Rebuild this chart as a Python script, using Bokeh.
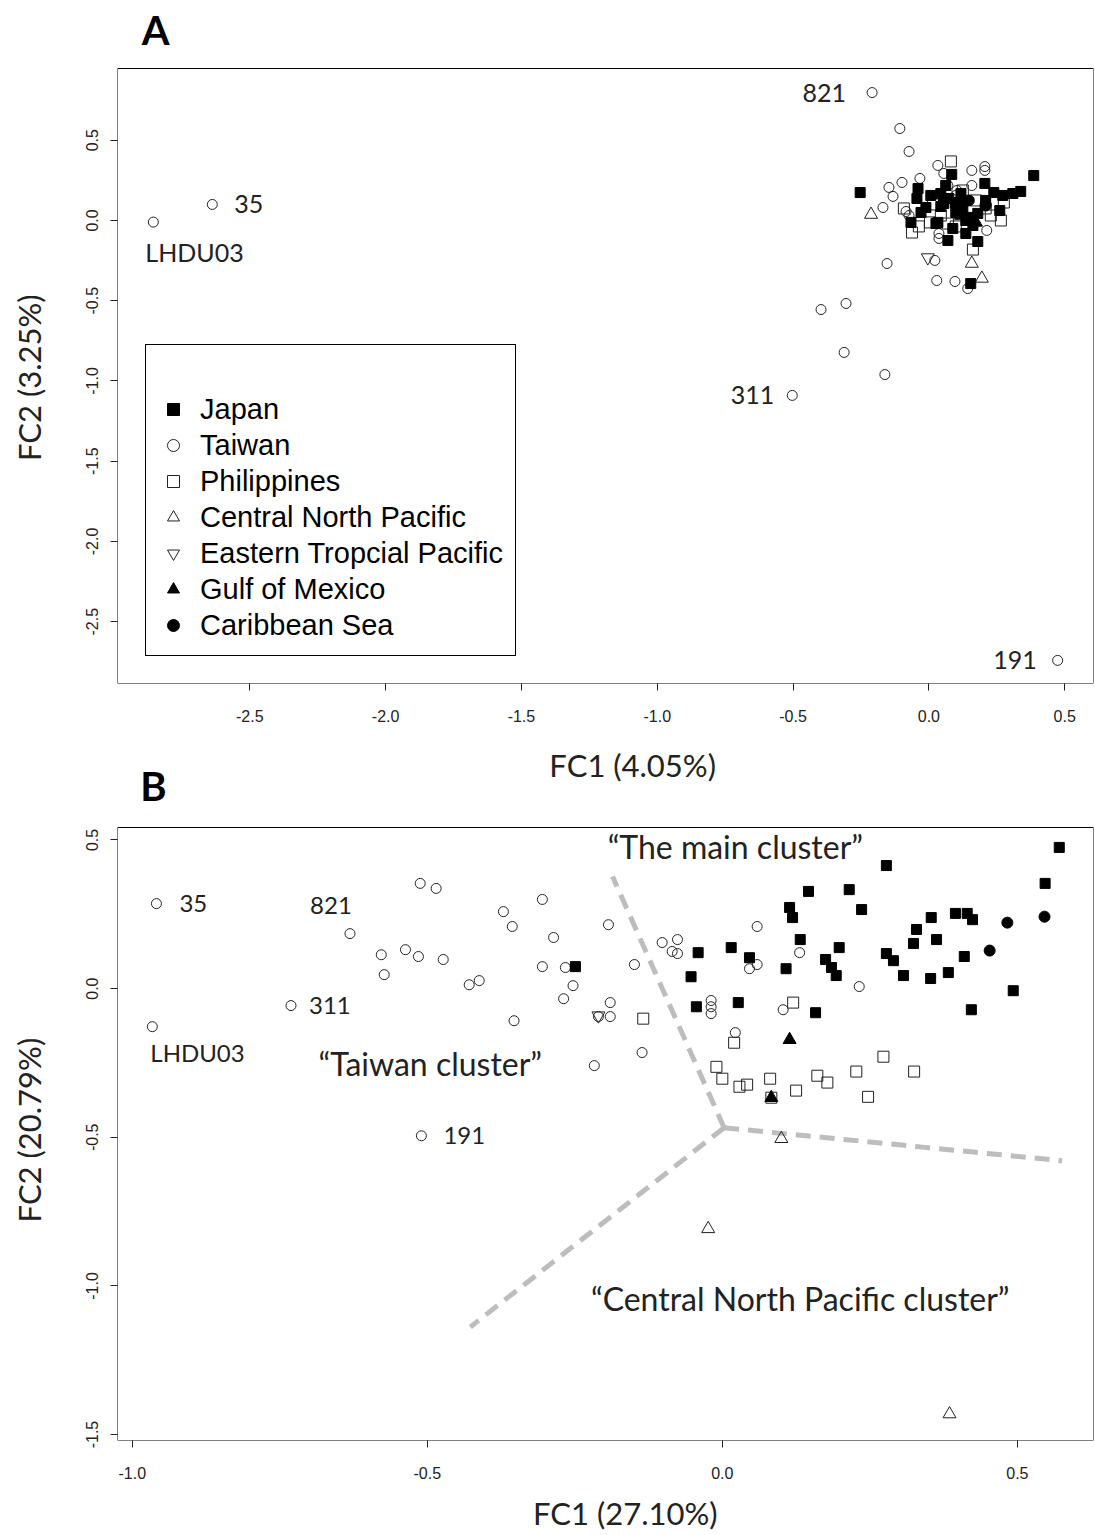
from bokeh.plotting import figure
from bokeh.layouts import column
from bokeh.models import FixedTicker, PrintfTickFormatter, Legend, LegendItem, Range1d, BoxAnnotation
from bokeh.core.properties import value
from bokeh.embed import file_html
from bokeh.resources import INLINE

# ---------------- Panel A: FC1 (4.05%) / FC2 (3.25%) ----------------
a_japan_x = [-0.253, -0.040, -0.044, -0.011, -0.066, 0.026, 0.044, 0.055, 0.073, 0.033, 0.084, 0.125,
             0.136, 0.070, 0.136, 0.180, 0.147, 0.180, 0.206, 0.239, 0.272, 0.309, 0.338, 0.386,
             0.261, 0.154, 0.099, 0.044, 0.110, 0.209, 0.007, 0.162, 0.088, 0.062, 0.118, -0.029]
a_japan_y = [0.174, 0.199, 0.137, 0.081, -0.012, -0.019, 0.168, 0.106, 0.137, -0.012, 0.287, 0.075,
             0.000, -0.125, -0.081, -0.131, 0.019, 0.044, 0.231, 0.174, 0.156, 0.168, 0.181, 0.280,
             0.062, -0.393, 0.050, 0.087, 0.112, 0.125, 0.156, -0.031, -0.050, 0.218, 0.168, 0.050]
a_taiwan_x = [-2.855, -2.638, -0.209, -0.503, 0.474, -0.397, -0.305, -0.312, -0.162, -0.154, -0.107,
              -0.073, 0.033, 0.158, 0.206, 0.206, -0.147, -0.099, -0.132, -0.033, -0.169, -0.084,
              0.037, 0.037, 0.213, 0.158, 0.103, 0.099, 0.022, 0.029, 0.096, 0.143, 0.055, -0.073, 0.070]
a_taiwan_y = [-0.010, 0.100, 0.797, -1.090, -2.741, -0.555, -0.517, -0.822, -0.960, -0.268, 0.573,
              0.430, 0.343, 0.312, 0.336, 0.312, 0.206, 0.237, 0.150, 0.262, 0.081, 0.056,
              -0.081, -0.112, -0.062, 0.218, 0.187, 0.156, -0.249, -0.374, -0.380, -0.424, 0.293, 0.031, 0.218]
a_phil_x = [0.081, -0.092, -0.062, 0.004, 0.070, 0.099, 0.162, 0.276, 0.015, 0.173, 0.228, -0.037,
            0.125, 0.044, 0.265, 0.209]
a_phil_y = [0.368, 0.075, -0.075, -0.012, -0.019, -0.037, -0.181, 0.112, 0.100, 0.125, 0.031, -0.037,
            0.187, 0.031, 0.000, 0.075]
a_cnp_x = [-0.213, 0.158, 0.195]
a_cnp_y = [0.037, -0.268, -0.361]
a_etp_x = [-0.004]
a_etp_y = [-0.231]
a_gom_x = [0.118, 0.173]
a_gom_y = [0.031, -0.012]
a_carib_x = [0.099, 0.209, 0.147]
a_carib_y = [0.093, 0.093, 0.125]

# individually tagged specimens in panel A
a_tag_text = ["821", "35", "LHDU03", "311", "191"]
a_tag_x = [-0.209, -2.638, -2.855, -0.503, 0.474]
a_tag_y = [0.797, 0.100, -0.010, -1.090, -2.741]

# ---------------- Panel B: FC1 (27.10%) / FC2 (20.79%) ----------------
b_japan_x = [-0.249, 0.146, 0.114, 0.119, 0.132, 0.015, -0.041, 0.046, 0.108, -0.053, -0.044, 0.027,
             0.158, 0.571, 0.278, 0.215, 0.547, 0.236, 0.354, 0.395, 0.415, 0.424, 0.329, 0.363,
             0.324, 0.198, 0.175, 0.185, 0.193, 0.278, 0.290, 0.307, 0.353, 0.383, 0.410, 0.493, 0.422]
b_japan_y = [0.074, 0.327, 0.273, 0.239, 0.165, 0.138, 0.121, 0.104, 0.067, 0.040, -0.061, -0.047,
             -0.081, 0.475, 0.414, 0.333, 0.354, 0.266, 0.239, 0.253, 0.253, 0.232, 0.199, 0.165,
             0.152, 0.138, 0.098, 0.071, 0.044, 0.118, 0.094, 0.044, 0.034, 0.054, 0.108, -0.007, -0.071]
b_taiwan_x = [-0.959, -0.966, -0.731, -0.510, -0.631, -0.512, -0.485, -0.578, -0.537, -0.515, -0.573,
              -0.473, -0.305, -0.371, -0.356, -0.286, -0.193, -0.305, -0.266, -0.253, -0.269, -0.429,
              -0.412, -0.353, -0.190, -0.210, -0.190, -0.217, -0.149, -0.102, -0.085, -0.076, -0.076,
              -0.136, 0.059, 0.131, 0.046, 0.059, -0.019, -0.019, -0.019, 0.103, 0.022, 0.232]
b_taiwan_y = [0.286, -0.128, -0.057, -0.495, 0.185, 0.354, 0.337, 0.114, 0.131, 0.108, 0.047,
              0.098, 0.300, 0.259, 0.209, 0.172, 0.215, 0.074, 0.071, 0.010, -0.034, 0.013,
              0.027, -0.108, -0.047, -0.094, -0.094, -0.259, 0.081, 0.155, 0.125, 0.118, 0.165,
              -0.215, 0.209, 0.121, 0.067, 0.081, -0.040, -0.061, -0.084, -0.071, -0.148, 0.007]
b_phil_x = [-0.134, 0.020, -0.010, 0.000, 0.029, 0.042, 0.081, 0.125, 0.161, 0.120, 0.273, 0.178,
            0.227, 0.325, 0.247, 0.083]
b_phil_y = [-0.101, -0.182, -0.263, -0.303, -0.330, -0.323, -0.303, -0.343, -0.293, -0.047, -0.229,
            -0.316, -0.279, -0.279, -0.364, -0.367]
b_cnp_x = [0.100, -0.024, 0.385]
b_cnp_y = [-0.505, -0.808, -1.431]
b_etp_x = [-0.210]
b_etp_y = [-0.091]
b_gom_x = [0.114, 0.083]
b_gom_y = [-0.172, -0.367]
b_carib_x = [0.483, 0.546, 0.453]
b_carib_y = [0.222, 0.242, 0.128]

b_tag_text = ["35", "821", "311", "LHDU03", "191"]
b_tag_x = [-0.959, -0.631, -0.731, -0.966, -0.510]
b_tag_y = [0.286, 0.185, -0.057, -0.128, -0.495]

# cluster boundaries (hub and three spokes) and cluster names
divider_hub = (0.003, -0.468)
divider_end_x = [-0.186, 0.576, -0.427]
divider_end_y = [0.377, -0.579, -1.138]
cluster_names = ["\u201cThe main cluster\u201d", "\u201cTaiwan cluster\u201d",
                 "\u201cCentral North Pacific cluster\u201d"]
cluster_x = [0.022, -0.495, 0.132]
cluster_y = [0.478, -0.253, -1.044]

groups = ["Japan", "Taiwan", "Philippines", "Central North Pacific",
          "Eastern Tropcial Pacific", "Gulf of Mexico", "Caribbean Sea"]

STYLE = {
    "Japan": dict(marker="square", size=10, fill_color="black", line_color="black"),
    "Taiwan": dict(marker="circle", size=10, fill_color=None, line_color="#222222"),
    "Philippines": dict(marker="square", size=11, fill_color=None, line_color="#222222"),
    "Central North Pacific": dict(marker="triangle", size=13, fill_color=None, line_color="#222222"),
    "Eastern Tropcial Pacific": dict(marker="inverted_triangle", size=13, fill_color=None, line_color="#222222"),
    "Gulf of Mexico": dict(marker="triangle", size=13, fill_color="black", line_color="black"),
    "Caribbean Sea": dict(marker="circle", size=11, fill_color="black", line_color="black"),
}
# drawing order (filled Japan squares on top)
DRAW_ORDER = ["Taiwan", "Philippines", "Central North Pacific", "Eastern Tropcial Pacific",
              "Gulf of Mexico", "Caribbean Sea", "Japan"]

TICK_FONT = "Liberation Sans Narrow, Liberation Sans"
TEXT_FONT = "Lato"
INK = "#222222"
NBSP = "\u00a0"

# Axis limits of the boxed plotting areas
a_xlim, a_ylim = (-2.987, 0.606), (-2.885, 0.947)
b_xlim, b_ylim = (-1.025, 0.629), (-1.52, 0.542)


def make_panel(xlim, ylim, box_px, head_px, xticks, yticks, height, border_bottom, border_left):
    # The drawing area reaches head_px above the boxed region so that the panel
    # letter (and the caption between the panels) can be placed in data space.
    y_top = ylim[0] + (ylim[1] - ylim[0]) * (box_px + head_px) / box_px
    p = figure(width=1095, height=height, x_range=Range1d(*xlim), y_range=Range1d(ylim[0], y_top),
               output_backend="svg", toolbar_location=None,
               min_border_left=border_left, min_border_right=2,
               min_border_top=0, min_border_bottom=border_bottom)
    p.grid.visible = False
    p.outline_line_color = None
    p.background_fill_color = "white"
    p.border_fill_color = "white"
    p.add_layout(BoxAnnotation(left=xlim[0], right=xlim[1], bottom=ylim[0], top=ylim[1],
                               fill_alpha=0, line_color="black", line_width=1, line_alpha=1))
    for ax, ticks in ((p.xaxis[0], xticks), (p.yaxis[0], yticks)):
        ax.ticker = FixedTicker(ticks=ticks)
        ax.formatter = PrintfTickFormatter(format="%.1f")
        ax.axis_line_color = None
        ax.major_tick_in = 0
        ax.major_tick_out = 7
        ax.major_tick_line_color = INK
        ax.minor_tick_line_color = None
        ax.major_label_text_font = TICK_FONT
        ax.major_label_text_font_size = "16px"
        ax.major_label_text_color = INK
        ax.axis_label_text_font = TEXT_FONT
        ax.axis_label_text_font_size = "31px"
        ax.axis_label_text_font_style = "normal"
        ax.axis_label_text_color = INK
    p.xaxis[0].major_label_standoff = 19
    yax = p.yaxis[0]
    yax.major_label_orientation = "vertical"
    yax.major_label_standoff = 12
    yax.axis_label_standoff = 36
    return p


def draw_groups(p, data):
    renderers = {}
    for g in DRAW_ORDER:
        xs, ys = data[g]
        renderers[g] = p.scatter(x=xs, y=ys, line_width=1, **STYLE[g])
    return renderers


def caption(p, x, y, text, size, align="center", dx=0, dy=0, bold=False):
    p.text(x=[x], y=[y], text=[text], text_align=align, text_baseline="middle",
           x_offset=dx, y_offset=dy, text_font=value(TEXT_FONT), text_font_size=size,
           text_font_style="bold" if bold else "normal",
           text_color="black" if bold else INK)


# ---- panel A (box 115..1093 x 68..683) ----
pa = make_panel(a_xlim, a_ylim, 615, 68,
                [-2.5, -2.0, -1.5, -1.0, -0.5, 0.0, 0.5], [-2.5, -2.0, -1.5, -1.0, -0.5, 0.0, 0.5],
                732, 49, 115)
# trailing no-break spaces keep the rotated title centred on the boxed region
pa.yaxis[0].axis_label = "FC2 (3.25%)" + NBSP * 9

ra = draw_groups(pa, {
    "Japan": (a_japan_x, a_japan_y), "Taiwan": (a_taiwan_x, a_taiwan_y),
    "Philippines": (a_phil_x, a_phil_y), "Central North Pacific": (a_cnp_x, a_cnp_y),
    "Eastern Tropcial Pacific": (a_etp_x, a_etp_y), "Gulf of Mexico": (a_gom_x, a_gom_y),
    "Caribbean Sea": (a_carib_x, a_carib_y)})

a_tag_style = {"821": ("right", -26, 0), "35": ("left", 22, 0), "LHDU03": ("left", -8, 30),
               "311": ("right", -18, 0), "191": ("right", -21, 0)}
for t, x, y in zip(a_tag_text, a_tag_x, a_tag_y):
    al, dx, dy = a_tag_style[t]
    caption(pa, x, y, t, "25px", align=al, dx=dx, dy=dy)

legend = Legend(items=[LegendItem(label=g, renderers=[ra[g]]) for g in groups],
                location=(28, 27), title=" ", title_text_font_size="30px", title_standoff=0,
                label_text_font="Liberation Sans", label_text_font_size="29px",
                label_text_color="black", label_standoff=12, label_height=36,
                glyph_width=30, glyph_height=36, spacing=0, padding=12, margin=0,
                border_line_color="black", border_line_width=1, border_line_alpha=1.0,
                background_fill_color="white", background_fill_alpha=1.0)
pa.add_layout(legend, "center")
caption(pa, -2.847, 1.184, "A", "40px", bold=True)

# ---- panel B (box 117..1093 x 827..1440) ----
pb = make_panel(b_xlim, b_ylim, 613, 95,
                [-1.0, -0.5, 0.0, 0.5], [-1.5, -1.0, -0.5, 0.0, 0.5],
                803, 95, 117)
pb.yaxis[0].axis_label = "FC2 (20.79%)" + NBSP * 11
pb.xaxis[0].axis_label = NBSP * 5 + "FC1 (27.10%)"
pb.xaxis[0].axis_label_standoff = 12

pb.segment(x0=[divider_hub[0]] * 3, y0=[divider_hub[1]] * 3, x1=divider_end_x, y1=divider_end_y,
           line_color="#bdbdbd", line_width=5, line_dash="15 9")

draw_groups(pb, {
    "Japan": (b_japan_x, b_japan_y), "Taiwan": (b_taiwan_x, b_taiwan_y),
    "Philippines": (b_phil_x, b_phil_y), "Central North Pacific": (b_cnp_x, b_cnp_y),
    "Eastern Tropcial Pacific": (b_etp_x, b_etp_y), "Gulf of Mexico": (b_gom_x, b_gom_y),
    "Caribbean Sea": (b_carib_x, b_carib_y)})

b_tag_style = {"35": ("left", 23, 0), "821": ("center", -19, -28), "311": ("left", 18, 0),
               "LHDU03": ("left", -2, 26), "191": ("left", 22, 0)}
for t, x, y in zip(b_tag_text, b_tag_x, b_tag_y):
    al, dx, dy = b_tag_style[t]
    caption(pb, x, y, t, "24px", align=al, dx=dx, dy=dy)

pb.text(x=cluster_x, y=cluster_y, text=cluster_names, text_align="center", text_baseline="middle",
        text_font=value(TEXT_FONT), text_font_size="32px", text_color=INK)

# panel A's x-axis title sits in the strip between the panels, next to the letter B
caption(pb, -0.152, 0.751, "FC1 (4.05%)", "31px")
caption(pb, -0.964, 0.683, "B", "40px", bold=True)

layout = column(pa, pb, spacing=0)
open("out.html", "w").write(file_html(layout, INLINE))
